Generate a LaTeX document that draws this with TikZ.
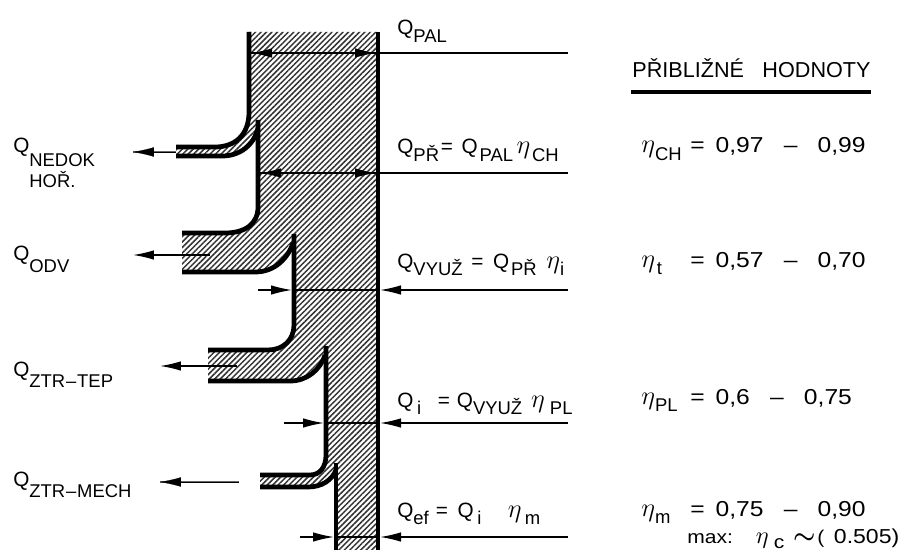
\documentclass[tikz,border=0pt]{standalone}
\usepackage{fontspec}
\setmainfont{Liberation Sans}
\newfontfamily\widefont[FakeStretch=1.14]{Liberation Sans}
\usetikzlibrary{arrows.meta,patterns.meta}

\newcommand{\qlow}[1]{\raisebox{-4.5pt}{\fontsize{10.5}{12}\selectfont #1}}
\newcommand{\etaq}{\scalebox{1.25}{$\eta$}}

\tikzset{
  wall/.style={line width=2.7pt},
  hatched/.style={pattern={Lines[angle=45,distance=2.2pt,line width=0.85pt]}, pattern color=black!80},
  dimline/.style={line width=0.8pt},
  dimtip/.style={dimline, -{Latex[length=0.42cm,width=0.19cm]}},
  lbl/.style={inner sep=0pt, anchor=base west, font=\fontsize{11.8}{14}\selectfont},
  sublbl/.style={lbl, font=\fontsize{10.5}{12}\selectfont},
  val/.style={inner sep=0pt, anchor=base west, font=\widefont\fontsize{12.3}{14}\selectfont},
}

\begin{document}
\begin{tikzpicture}[x=0.02cm, y=-0.02cm]
  \useasboundingbox (0,0) rectangle (901,550);

  % flow band
  \fill[hatched] (249,32) -- (378,32) -- (378,550) -- (336,550) -- (336,470)
      .. controls (332,480) and (322,487) .. (308,487) -- (260,487) -- (260,475) -- (310,475)
      .. controls (320,475) and (326,467) .. (326,455) -- (326,355)
      .. controls (320,370) and (307,381) .. (290,381) -- (208,381) -- (208,350) -- (268,350)
      .. controls (283,350) and (294,340) .. (294,325) -- (294,243)
      .. controls (288,258) and (275,272) .. (255,272) -- (182,272) -- (182,233) -- (225,233)
      .. controls (245,233) and (258,224) .. (258,207) -- (258,128)
      .. controls (254,145) and (240,156) .. (222,156) -- (176,156) -- (176,147) -- (215,147)
      .. controls (235,147) and (249,135) .. (249,112) -- cycle;

  % contours
  \draw[wall] (378,32) -- (378,550);
  \draw[wall] (249,32) -- (249,112) .. controls (249,135) and (235,147) .. (215,147) -- (176,147);
  \draw[wall] (258,120) -- (258,207) .. controls (258,224) and (245,233) .. (225,233) -- (182,233);
  \draw[wall] (176,156) -- (222,156) .. controls (240,156) and (254,145) .. (258,128);
  \draw[wall] (182,272) -- (255,272) .. controls (275,272) and (288,258) .. (293,243);
  \draw[wall] (294,234) -- (294,325) .. controls (294,340) and (283,350) .. (268,350) -- (208,350);
  \draw[wall] (208,381) -- (290,381) .. controls (307,381) and (320,370) .. (325,355);
  \draw[wall] (326,346) -- (326,455) .. controls (326,467) and (320,475) .. (310,475) -- (260,475);
  \draw[wall] (260,487) -- (308,487) .. controls (322,487) and (332,480) .. (336,470);
  \draw[wall] (336,463) -- (336,550);

  % section lines
  \coordinate (palEnd) at (568,53);
  \coordinate (palWall) at (378,53);
  \coordinate (palTipL) at (251,53);
  \coordinate (palTipR) at (376,53);
  \coordinate (prEnd) at (568,173);
  \coordinate (prWall) at (378,173);
  \coordinate (prTipL) at (260,173);
  \coordinate (prTipR) at (376,173);
  \draw[dimline] (palEnd) -- (palWall);
  \draw[dimtip] (palTipR) -- (palTipL);
  \draw[dimtip] (palTipL) -- (palTipR);
  \draw[dimline] (prEnd) -- (prWall);
  \draw[dimtip] (prTipR) -- (prTipL);
  \draw[dimtip] (prTipL) -- (prTipR);

  \coordinate (vyuzEnd) at (568,290);
  \coordinate (vyuzWall) at (380,290);
  \coordinate (vyuzFree) at (258,290);
  \coordinate (vyuzTip) at (292,290);
  \coordinate (iEnd) at (568,423);
  \coordinate (iWall) at (380,423);
  \coordinate (iFree) at (284,423);
  \coordinate (iTip) at (324,423);
  \coordinate (efEnd) at (568,537);
  \coordinate (efWall) at (380,537);
  \coordinate (efFree) at (300,537);
  \coordinate (efTip) at (334,537);
  \draw[dimtip] (vyuzEnd) -- (vyuzWall);
  \draw[dimtip] (vyuzFree) -- (vyuzTip);
  \draw[dimline] (vyuzTip) -- (vyuzWall);
  \draw[dimtip] (iEnd) -- (iWall);
  \draw[dimtip] (iFree) -- (iTip);
  \draw[dimline] (iTip) -- (iWall);
  \draw[dimtip] (efEnd) -- (efWall);
  \draw[dimtip] (efFree) -- (efTip);
  \draw[dimline] (efTip) -- (efWall);

  % losses
  \coordinate (nedokOut) at (176,152);
  \coordinate (nedokTip) at (133,152);
  \coordinate (odvIn) at (210,255);
  \coordinate (odvTip) at (133,255);
  \coordinate (tepIn) at (237,366);
  \coordinate (tepTip) at (160,366);
  \coordinate (mechIn) at (239,482);
  \coordinate (mechTip) at (160,482);
  \draw[dimline, black!60] (nedokOut) -- (nedokTip);
  \draw[-{Latex[length=0.42cm,width=0.19cm]}, line width=0.1pt] (nedokOut) -- (nedokTip);
  \draw[dimtip] (odvIn) -- (odvTip);
  \draw[dimtip] (tepIn) -- (tepTip);
  \draw[line width=1.2pt, black!60] (mechIn) -- (mechTip);
  \draw[-{Latex[length=0.42cm,width=0.19cm]}, line width=0.1pt] (mechIn) -- (mechTip);

  % labels left
  \node[lbl] (qnedok) at (13,153) {Q};
  \node[sublbl] (nedok) at (29,167) {NEDOK};
  \node[sublbl] (hor) at (29,188) {HOŘ.};
  \node[lbl] (qodv) at (13,260) {Q};
  \node[sublbl] (odv) at (29,272) {ODV};
  \node[lbl] (qtep) at (13,376) {Q};
  \node[sublbl] (ztrtep) at (29,387) {ZTR\hspace{0.5pt}–\hspace{0.5pt}TEP};
  \node[lbl] (qmech) at (13,486) {Q};
  \node[sublbl] (ztrmech) at (29,497) {ZTR\hspace{0.5pt}–\hspace{0.5pt}MECH};

  % labels middle
  \node[lbl] (qpal) at (397,35) {Q\qlow{PAL}};
  \node[lbl] (qpr) at (397,154) {Q\qlow{PŘ}\hspace{1pt}=\hspace{5pt}Q\hspace{1pt}\qlow{PAL}\hspace{2pt}\etaq\hspace{1pt}\qlow{CH}};
  \node[lbl] (qvyuz) at (397,268) {Q\qlow{VYUŽ}\hspace{5pt}=\hspace{5.5pt}Q\hspace{1pt}\qlow{PŘ}\hspace{5.5pt}\etaq\qlow{i}};
  \node[lbl] (qi) at (397,407) {Q\hspace{2pt}\qlow{i}\hspace{9.5pt}=\hspace{4pt}Q\qlow{VYUŽ}\hspace{5pt}\etaq\hspace{3pt}\qlow{PL}};
  \node[lbl] (qef) at (397,517) {Q\qlow{ef}\hspace{4pt}=\hspace{5.5pt}Q\hspace{2pt}\qlow{i}\hspace{15pt}\etaq\hspace{2pt}\qlow{m}};

  % values
  \node[lbl, font=\fontsize{12.3}{14}\selectfont] (title) at (632,78) {PŘIBLIŽNÉ\hspace{10.5pt}HODNOTY};
  \coordinate (ruleL) at (631,92);
  \coordinate (ruleR) at (871,92);
  \draw[line width=2.8pt] (ruleL) -- (ruleR);
  \node[lbl] (ech) at (641,153) {\etaq\qlow{CH}};
  \node[val] (vch) at (690,153) {=\hspace{6.2pt}0,97\hspace{11.5pt}–\hspace{11.5pt}0,99};
  \node[lbl] (et) at (641,267) {\etaq\hspace{1pt}\qlow{t}};
  \node[val] (vt) at (690,267) {=\hspace{6.2pt}0,57\hspace{11.5pt}–\hspace{11.5pt}0,70};
  \node[lbl] (epl) at (641,404) {\etaq\qlow{PL}};
  \node[val] (vpl) at (690,404) {=\hspace{6.2pt}0,6\hspace{11.5pt}–\hspace{11.5pt}0,75};
  \node[lbl] (em) at (641,516) {\etaq\qlow{m}};
  \node[val] (vm) at (690,516) {=\hspace{6.2pt}0,75\hspace{11.5pt}–\hspace{11.5pt}0,90};
  \node[sublbl, font=\widefont\fontsize{10.5}{12}\selectfont] (vmax) at (687,543) {max:\hspace{13pt}\etaq\hspace{3pt}\raisebox{-3pt}{c}\hspace{5pt}\scalebox{1.3}{\boldmath$\sim$}\hspace{1pt}(\hspace{5.5pt}{\fontsize{11.5}{14}\selectfont 0.505)}};
\end{tikzpicture}
\end{document}
